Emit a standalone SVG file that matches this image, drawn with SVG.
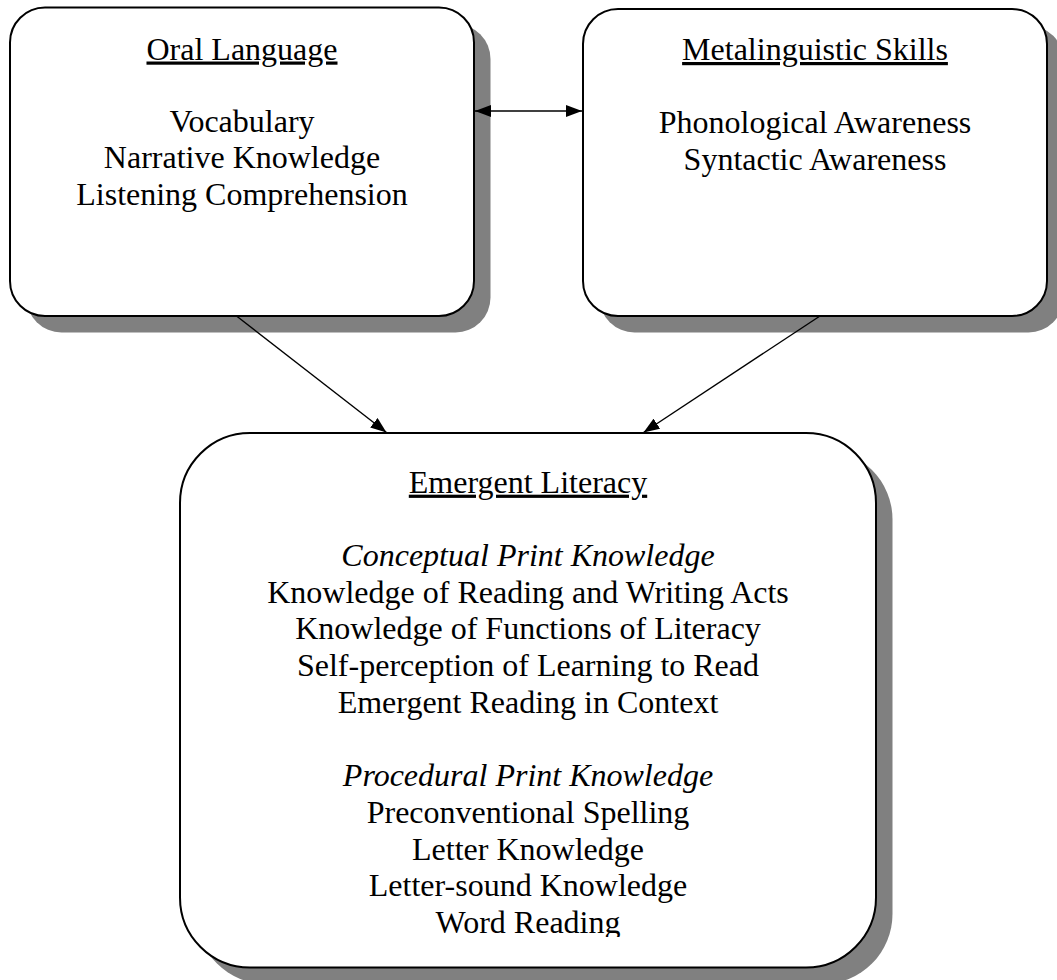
<svg xmlns="http://www.w3.org/2000/svg" width="1057" height="980" viewBox="0 0 1057 980">
<style>
.shadow{fill:#808080;stroke:none}
.box{fill:#ffffff;stroke:#000000;stroke-width:2}
.t{font-family:"Liberation Serif","Times New Roman",serif;font-size:32px;fill:#000000;text-anchor:middle}
.h{text-decoration:underline}
.i{font-style:italic}
.conn{stroke:#000000;stroke-width:1.4;fill:none}
</style>
<defs>
<marker id="ah" viewBox="0 0 16 12" refX="16" refY="6" markerWidth="16" markerHeight="12" markerUnits="userSpaceOnUse" orient="auto-start-reverse">
<path d="M0,0 L16,6 L0,12 z" fill="#000000"/>
</marker>
<clipPath id="elclip"><rect x="180" y="433" width="696" height="504"/></clipPath>
</defs>
<rect width="1057" height="980" fill="#ffffff"/>
<g id="oral-language">
<rect class="shadow" x="26.5" y="24" width="464" height="308.5" rx="35" ry="35"/>
<rect class="box" x="10" y="7.5" width="464" height="308.5" rx="35" ry="35"/>
<text class="t h" x="242" y="59.5">Oral Language</text>
<text class="t" x="242" y="131.5">Vocabulary</text>
<text class="t" x="242" y="168">Narrative Knowledge</text>
<text class="t" x="242" y="204.5">Listening Comprehension</text>
</g>
<g id="metalinguistic-skills">
<rect class="shadow" x="599.5" y="25.5" width="464" height="307" rx="35" ry="35"/>
<rect class="box" x="583" y="9" width="464" height="307" rx="35" ry="35"/>
<text class="t h" x="815" y="60">Metalinguistic Skills</text>
<text class="t" x="815" y="133">Phonological Awareness</text>
<text class="t" x="815" y="169.5">Syntactic Awareness</text>
</g>
<g id="emergent-literacy">
<rect class="shadow" x="196.5" y="449.5" width="696" height="534.5" rx="70" ry="70"/>
<rect class="box" x="180" y="433" width="696" height="534.5" rx="70" ry="70"/>
<g clip-path="url(#elclip)">
<text class="t h" x="528" y="492.7">Emergent Literacy</text>
<text class="t i" x="528" y="566">Conceptual Print Knowledge</text>
<text class="t" x="528" y="602.7">Knowledge of Reading and Writing Acts</text>
<text class="t" x="528" y="639.4">Knowledge of Functions of Literacy</text>
<text class="t" x="528" y="676.1">Self-perception of Learning to Read</text>
<text class="t" x="528" y="712.8">Emergent Reading in Context</text>
<text class="t i" x="528" y="786.2">Procedural Print Knowledge</text>
<text class="t" x="528" y="822.9">Preconventional Spelling</text>
<text class="t" x="528" y="859.6">Letter Knowledge</text>
<text class="t" x="528" y="896.3">Letter-sound Knowledge</text>
<text class="t" x="528" y="933">Word Reading</text>
</g>
</g>
<g id="connectors">
<line class="conn" x1="475" y1="111" x2="582" y2="111" marker-start="url(#ah)" marker-end="url(#ah)"/>
<line class="conn" x1="236.5" y1="316" x2="386.5" y2="432.5" marker-end="url(#ah)"/>
<line class="conn" x1="820" y1="316" x2="643.5" y2="432.5" marker-end="url(#ah)"/>
</g>
</svg>
